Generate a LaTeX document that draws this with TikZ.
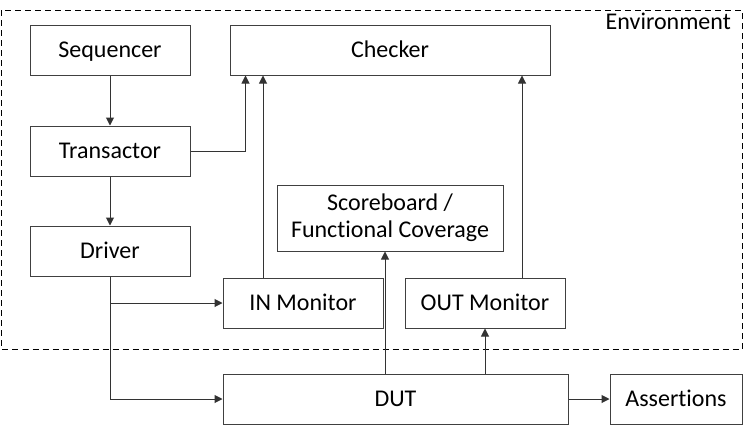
\documentclass[tikz,border=0pt]{standalone}
\usepackage{fontspec}
\setmainfont{Carlito}[Ligatures=NoCommon]
\usetikzlibrary{arrows.meta,calc}
\begin{document}
\begin{tikzpicture}[x=1pt,y=-1pt,
  box/.style={draw=black!75,line width=1pt,inner sep=0pt,align=center,font=\fontsize{24}{27}\selectfont},
  onel/.style={box,text height=15.5pt,text depth=0pt},
  arr/.style={draw=black!80,line width=1pt,-{Triangle[length=8pt,width=8pt]}},
  envbox/.style={draw=black,line width=1pt,dash pattern=on 6pt off 4pt}]
\useasboundingbox (0,0) rectangle (744,426);
\draw[envbox] (1.5,10) rectangle (742,349);
\node[anchor=east,inner sep=0pt,font=\fontsize{24}{27}\selectfont,text height=15.5pt,text depth=0pt] (envlbl) at (731,22) {Environment};
\node[onel,minimum width=160pt,minimum height=50pt] (seq) at (110,50) {Sequencer};
\node[onel,minimum width=320pt,minimum height=50pt] (chk) at (390,50) {Checker};
\node[onel,minimum width=160pt,minimum height=50pt] (trn) at (110,151) {Transactor};
\node[onel,minimum width=160pt,minimum height=50pt] (drv) at (110,251) {Driver};
\node[box,minimum width=226pt,minimum height=66pt] (scb) at (390,218) {Scoreboard /\\Functional Coverage};
\node[onel,minimum width=160pt,minimum height=50pt] (inm) at (303,303) {IN Monitor};
\node[onel,minimum width=160pt,minimum height=50pt] (outm) at (485,303) {OUT Monitor};
\node[onel,minimum width=345pt,minimum height=50pt] (dut) at (395.5,399) {DUT};
\node[onel,minimum width=132pt,minimum height=50pt] (asr) at (676,399) {Assertions};
\draw[arr] (seq.south) -- (trn.north);
\draw[arr] (trn.south) -- (drv.north);
\draw[arr] (trn.east) -| ([xshift=16pt]chk.south west);
\draw[arr] ([xshift=-40pt]inm.north) -- ([xshift=-40pt]inm.north |- chk.south);
\draw[arr] ([xshift=37pt]outm.north) -- ([xshift=37pt]outm.north |- chk.south);
\draw[arr] (drv.south) |- (dut.west);
\draw[arr] (drv.south |- inm.west) -- (inm.west);
\draw[arr] ([xshift=-5pt]scb.south |- dut.north) -- ([xshift=-5pt]scb.south);
\draw[arr] (outm.south |- dut.north) -- (outm.south);
\draw[arr] (dut.east) -- (asr.west);
\end{tikzpicture}
\end{document}
